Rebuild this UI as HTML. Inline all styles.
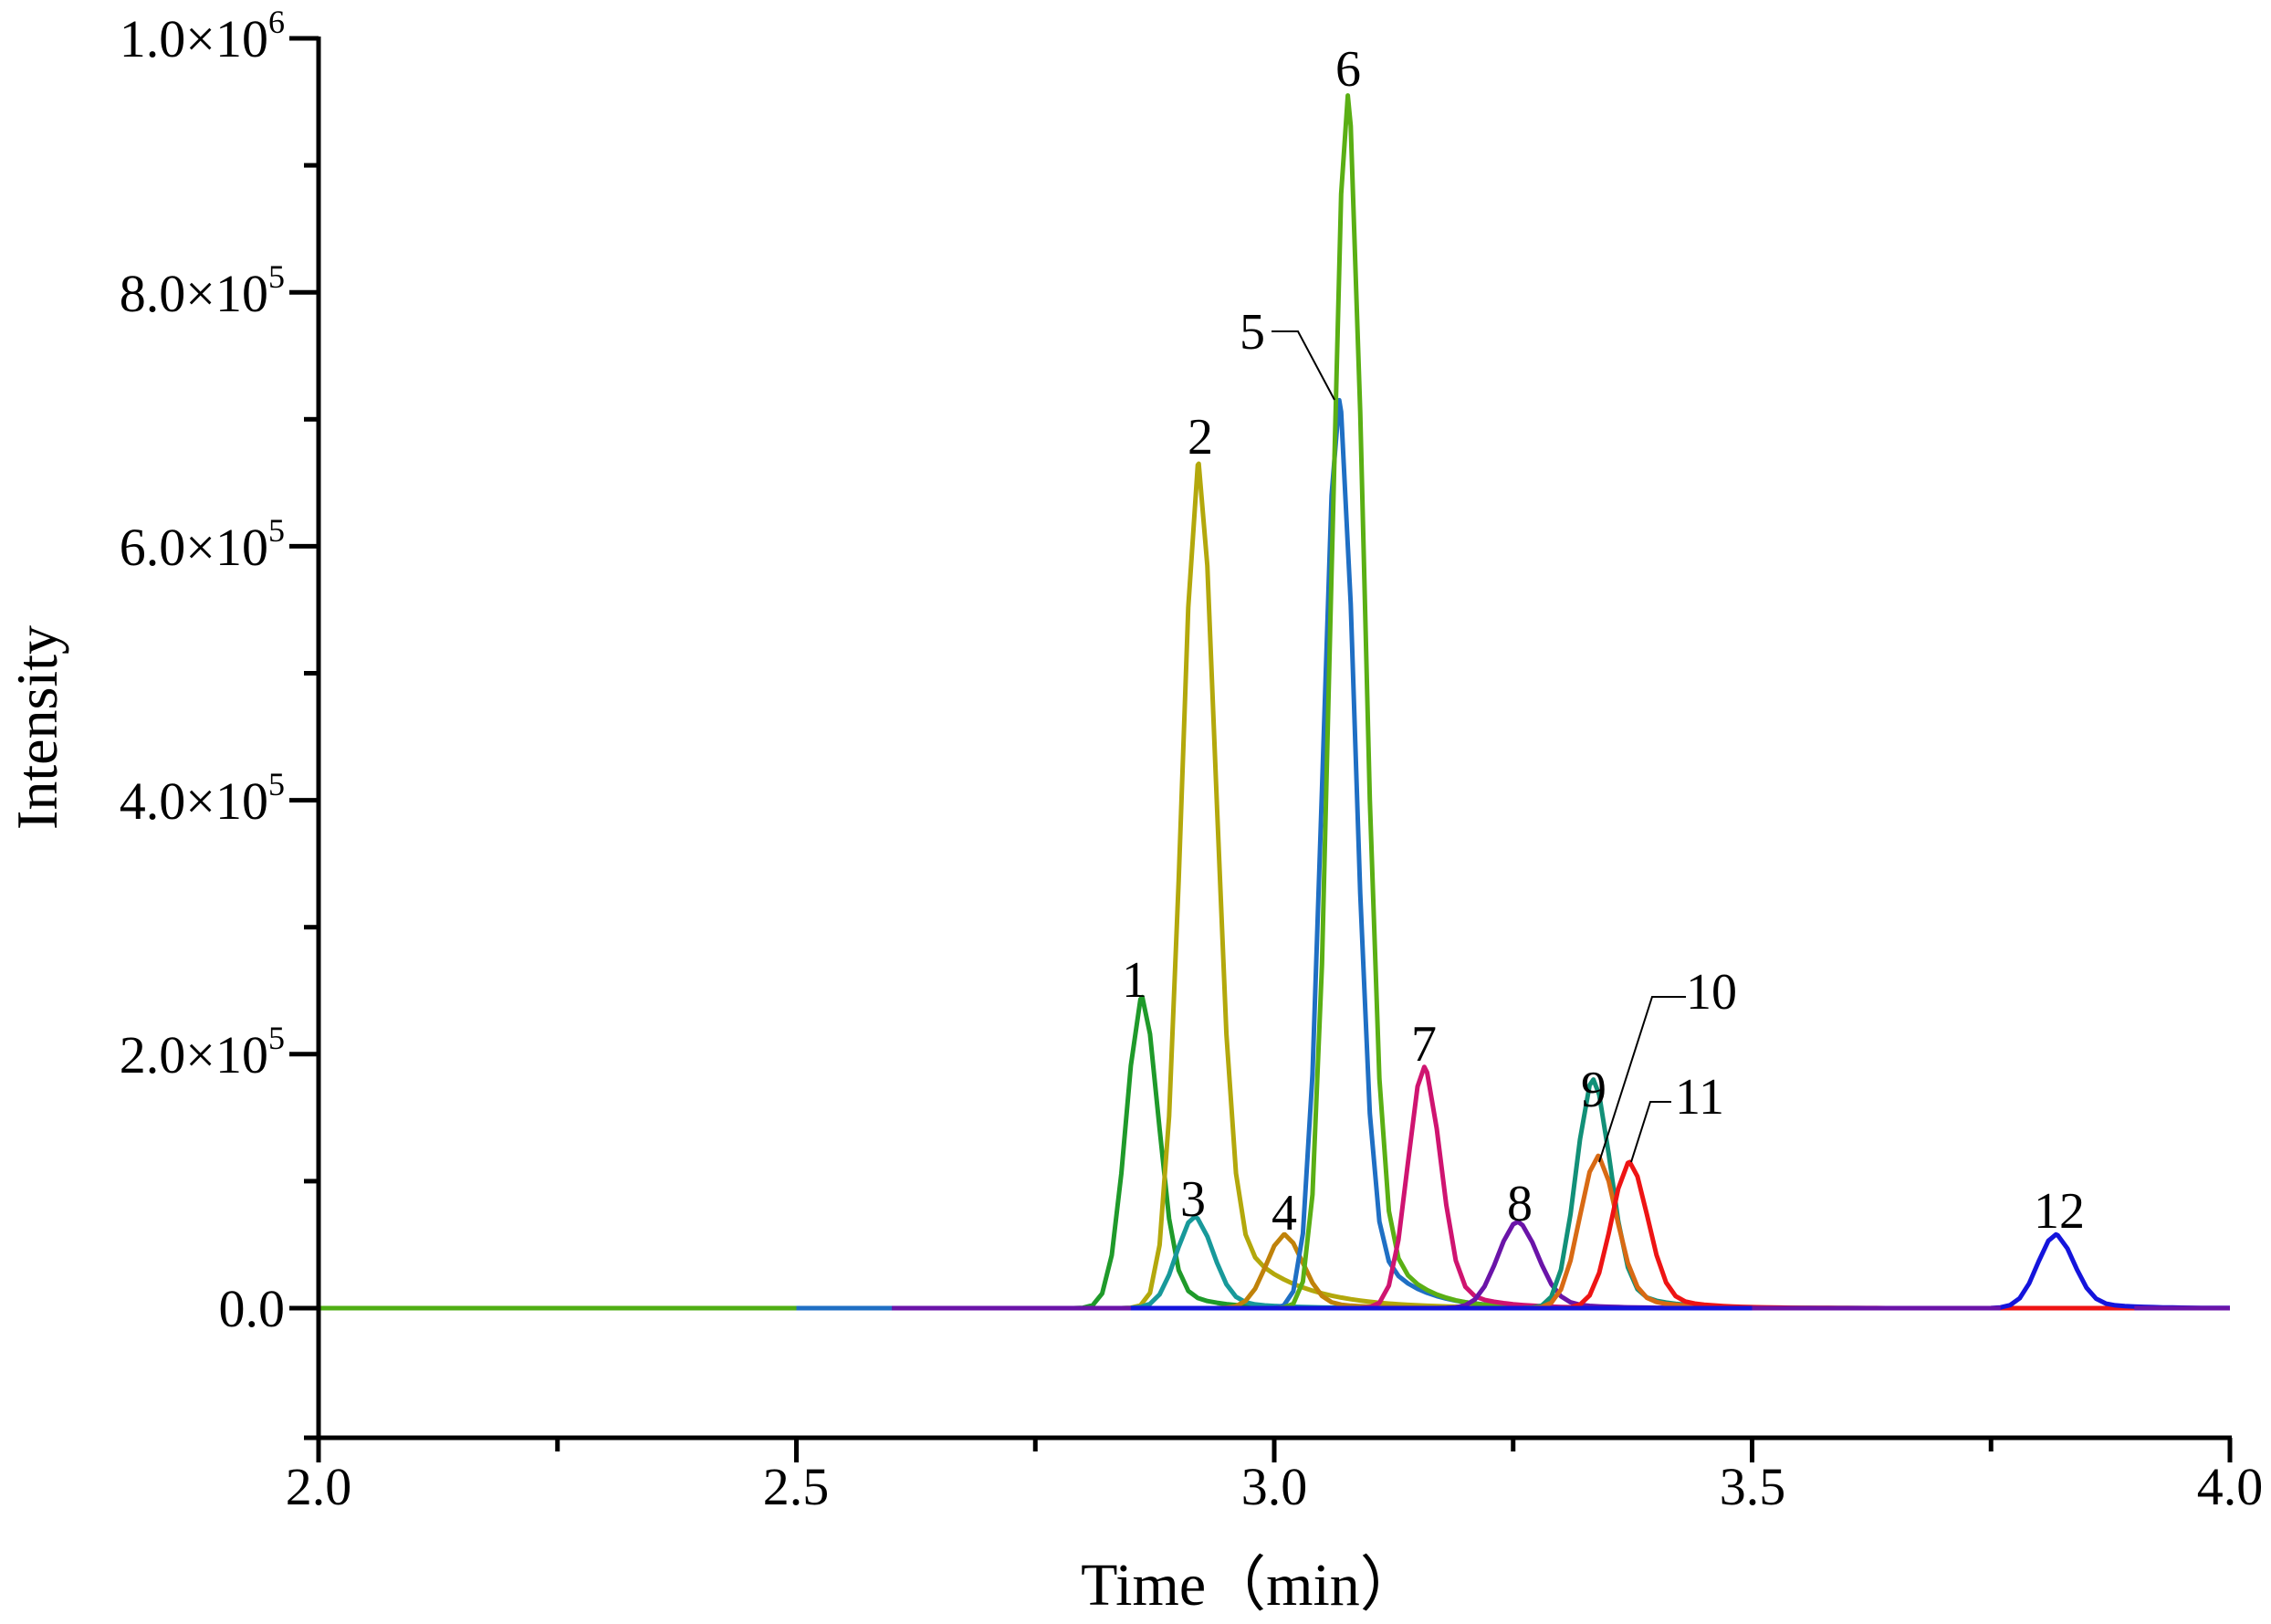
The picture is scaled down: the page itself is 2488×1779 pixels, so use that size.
<!DOCTYPE html>
<html><head><meta charset="utf-8"><style>
html,body{margin:0;padding:0;background:#fff;}
svg{display:block;}
text{font-family:"Liberation Serif","Times New Roman",serif;fill:#000;}
</style></head><body>
<svg id="s" width="2488" height="1779" viewBox="0 0 2488 1779" xmlns="http://www.w3.org/2000/svg">
<g id="curves" fill="none" stroke-width="5" stroke-linejoin="round"></g>
<g stroke="#000" stroke-width="5" fill="none">
<line x1="349" y1="40" x2="349" y2="1600"/>
<line x1="335" y1="1575" x2="2445" y2="1575"/>
</g>
<g id="ticks" stroke="#000" stroke-width="5"></g>
<g font-size="58" text-anchor="end" id="ylab">
<text x="312" y="62">1.0×10<tspan font-size="36" dy="-26">6</tspan></text>
<text x="312" y="341">8.0×10<tspan font-size="36" dy="-26">5</tspan></text>
<text x="312" y="619">6.0×10<tspan font-size="36" dy="-26">5</tspan></text>
<text x="312" y="897">4.0×10<tspan font-size="36" dy="-26">5</tspan></text>
<text x="312" y="1175">2.0×10<tspan font-size="36" dy="-26">5</tspan></text>
<text x="312" y="1453">0.0</text>
</g>
<g font-size="58" text-anchor="middle">
<text x="349" y="1648">2.0</text>
<text x="872" y="1648">2.5</text>
<text x="1396" y="1648">3.0</text>
<text x="1920" y="1648">3.5</text>
<text x="2443" y="1648">4.0</text>
<text x="1370" y="1758" font-size="66">Time（min）</text>
<text transform="translate(62,797) rotate(-90)" font-size="64">Intensity</text>
</g>
<g font-size="56" text-anchor="middle">
<text x="1243" y="1092">1</text>
<text x="1315" y="497">2</text>
<text x="1307" y="1332">3</text>
<text x="1407" y="1347">4</text>
<text x="1372" y="382">5</text>
<text x="1477" y="94">6</text>
<text x="1560" y="1162">7</text>
<text x="1665" y="1337">8</text>
<text x="1746" y="1212">9</text>
<text x="1875" y="1105">10</text>
<text x="1862" y="1220">11</text>
<text x="2256" y="1345">12</text>
</g>
<g stroke="#000" stroke-width="2" fill="none">
<polyline points="1393,363 1422,363 1462,438"/>
<polyline points="1847,1092 1810,1092 1752,1273"/>
<polyline points="1831,1207 1808,1207 1787,1273"/>
</g>
</svg>
<script>
var ns="http://www.w3.org/2000/svg";
function sx(t){return 349+(t-2)*1047;}
function sy(v){return 1433-v*1391/1e6;}
var tk=document.getElementById('ticks');
function L(x1,y1,x2,y2){var l=document.createElementNS(ns,'line');l.setAttribute('x1',x1);l.setAttribute('y1',y1);l.setAttribute('x2',x2);l.setAttribute('y2',y2);tk.appendChild(l);}
for(var i=0;i<=10;i++){var y=sy(i*1e5);L(349,y,i%2==0?317:333,y);}
L(349,1575,333,1575);
for(var i=0;i<=8;i++){var x=sx(2+i*0.25);L(x,1575,x,i%2==0?1602:1590);}
var peaks=[
[2.862,245e3,0.017,0.012,'#1f9a2a'],
[2.921,665e3,0.018,0.02,'#b3a80c'],
[2.917,72e3,0.019,0.015,'#18999a'],
[3.011,58e3,0.019,0.015,'#c0820a'],
[3.068,715e3,0.017,0.014,'#1f6fc4'],
[3.077,955e3,0.017,0.012,'#5aaf14'],
[3.157,190e3,0.017,0.014,'#cf1470'],
[3.255,68e3,0.021,0.014,'#6a14a8'],
[3.334,180e3,0.018,0.014,'#129078'],
[3.339,120e3,0.019,0.014,'#d86a14'],
[3.372,115e3,0.019,0.014,'#ee1414'],
[3.818,58e3,0.019,0.014,'#1414dc']];
var g=document.getElementById('curves');
function f(p,t){var d=t-p[0],v;
  if(d<0)v=Math.exp(-d*d/(2*p[2]*p[2]));
  else v=Math.exp(-d*d/(2*p[2]*p[2]))*0.85+0.15*Math.exp(-d/(p[3]*3));
  return p[1]*v;}
peaks.forEach(function(p){
  var ts=[];
  for(var t=2.0;t<=4.0001;t+=0.01){ts.push(t);}
  ts.push(p[0]);ts.sort(function(a,b){return a-b;});
  var pts=ts.map(function(t){return sx(t).toFixed(1)+','+sy(f(p,t)).toFixed(1);});
  var pl=document.createElementNS(ns,'polyline');
  pl.setAttribute('points',pts.join(' '));pl.setAttribute('stroke',p[4]);
  g.appendChild(pl);
});
[[2.0,2.5,'#4fae14'],[2.5,2.6,'#1f6fc4'],[2.6,2.85,'#6a14a8'],[3.5,3.76,'#6a14a8'],[3.9,4.0,'#6a14a8']].forEach(function(b){
  var l=document.createElementNS(ns,'line');
  l.setAttribute('x1',sx(b[0]));l.setAttribute('x2',sx(b[1]));
  l.setAttribute('y1',sy(0));l.setAttribute('y2',sy(0));l.setAttribute('stroke',b[2]);
  g.appendChild(l);});
</script>
</body></html>
